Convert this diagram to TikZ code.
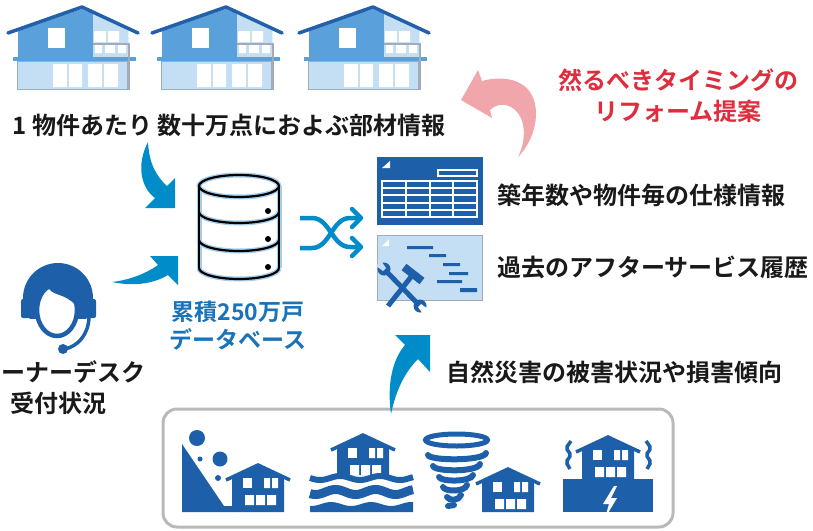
\documentclass[tikz,border=0pt]{standalone}
\usepackage{fontspec}
\setmainfont{Noto Sans CJK JP}[BoldFont={Noto Sans CJK JP Bold}]
\definecolor{roofblue}{RGB}{35,95,170}
\definecolor{wallblue}{RGB}{90,160,218}
\definecolor{paleblue}{RGB}{196,222,243}
\definecolor{iconblue}{RGB}{30,95,170}
\definecolor{arrowblue}{RGB}{0,140,200}
\definecolor{labelblue}{RGB}{25,115,185}
\definecolor{labelred}{RGB}{222,45,60}
\definecolor{pinkarrow}{RGB}{241,166,172}
\definecolor{framegrey}{RGB}{185,185,185}
\definecolor{inkblack}{RGB}{25,25,25}
\definecolor{glowblue}{RGB}{165,205,238}
\definecolor{trimgrey}{RGB}{160,172,185}
\tikzset{
  lbl/.style={font=\bfseries\fontsize{24}{31}\selectfont, text=inkblack, inner sep=0pt, align=center},
  bigarrow/.style={fill=arrowblue},
  % two-storey house with balcony
  pics/housetop/.style={code={
    \fill[wallblue] (18,58) -- (18,29) -- (82,9) -- (128,28) -- (128,58) -- cycle;
    \fill[paleblue] (93,58) -- (93,13) -- (128,28) -- (128,58) -- cycle;
    \draw[roofblue, line width=3.5, line cap=round, line join=round] (8,33) -- (82,7) -- (138,33);
    \fill[white] (48,28) rectangle (65,48);
    \fill[white] (94,31) rectangle (106,42) (108,31) rectangle (119,42);
    \fill[white] (95,45) rectangle (102,53) (105,45) rectangle (115,53) (118,45) rectangle (126,53);
    \draw[trimgrey, line width=1.2] (93,44) -- (129,44);
    \fill[paleblue] (17,61) rectangle (127,89);
    \draw[trimgrey, line width=1] (17,61) rectangle (127,89);
    \fill[white] (53,64) rectangle (67,87) (69,64) rectangle (82,87)
                 (88,64) rectangle (102,87) (104,64) rectangle (118,87);
    \fill[wallblue] (13,57) rectangle (136,61);
    \draw[trimgrey, line width=2] (129,43) -- (129,90);
  }},
  % small house pictogram, origin at the roof apex, #1 = body depth
  pics/dhouse/.style={code={
    \fill[iconblue] (-26,#1) -- (-26,12) -- (0,0) -- (26,12) -- (26,#1) -- cycle;
    \draw[iconblue, line width=3.5] (-32,15) -- (0,0) -- (32,15);
    \fill[white] (-15,13) rectangle (-6,23);
    \fill[white] (6,13) rectangle (12,23) (14,13) rectangle (20,23);
    \fill[white] (-13,30) rectangle (-4,40) (-2,30) rectangle (7,40) (9,30) rectangle (18,40);
  }}
}
\begin{document}
\begin{tikzpicture}[x=1pt,y=-1pt]
\useasboundingbox (0,0) rectangle (813,530);
\clip (0,0) rectangle (813,530);

% ---------- houses along the top ----------
\pic at (0,0) {housetop};
\pic at (144,0) {housetop};
\pic at (291,0) {housetop};

\node[lbl] (parts) at (229,125) {1 物件あたり 数十万点におよぶ部材情報};

% ---------- database cylinder ----------
\foreach \w/\c in {5/glowblue, 2.2/black}{
  \draw[\c, line width=\w] (239,186) ellipse [x radius=40, y radius=11];
  \draw[\c, line width=\w] (199,186) -- (199,268) (279,186) -- (279,268);
  \foreach \cy in {212,240,268}{
    \draw[\c, line width=\w] (199,\cy) .. controls (199,\cy+6.1) and (216.9,\cy+11) .. (239,\cy+11)
      .. controls (261.1,\cy+11) and (279,\cy+6.1) .. (279,\cy);
  }
}
\foreach \dy in {211,239,267} \fill[black] (268,\dy) circle [radius=3];
\coordinate (db) at (239,232);
\node[lbl, text=labelblue, font=\bfseries\fontsize{23}{28}\selectfont] (dblabel) at (238,326) {累積250万戸\\データベース};

% ---------- shuffle arrows ----------
\begin{scope}[arrowblue, line width=4.5, line join=round]
  \draw (300,218) -- (312,218) .. controls (330,218) and (332,247) .. (350,247) -- (361,247);
  \draw (300,248) -- (312,248) .. controls (330,248) and (332,218) .. (350,218) -- (361,218);
  \draw[line cap=round] (352,209) -- (361,218) -- (352,227);
  \draw[line cap=round] (352,238) -- (361,247) -- (352,256);
\end{scope}

% ---------- spreadsheet icon ----------
\fill[iconblue] (377,157) rectangle (483,225);
\fill[white] (382,168) -- (390,161) -- (390,168) -- cycle;
\draw[white, line width=1.2] (438,170) rectangle (477,176);
\draw[white, line width=1.5] (382,181) rectangle (477,217);
\draw[white, line width=1.5] (382,188) -- (477,188) (382,195) -- (477,195) (382,203) -- (477,203) (382,210) -- (477,210)
  (406,181) -- (406,217) (430,181) -- (430,217) (453,181) -- (453,217);
\node[lbl, anchor=west] (spec) at (497,195) {築年数や物件毎の仕様情報};

% ---------- service history icon ----------
\fill[paleblue] (377,235) rectangle (482,300);
\draw[trimgrey, line width=1] (377,235) rectangle (482,300);
\fill[white] (382,246) -- (389,239) -- (389,246) -- cycle;
\fill[iconblue] (407,246) rectangle (433,249) (429,254) rectangle (446,257) (443,263) rectangle (460,266)
  (449,272) rectangle (468,275) (437,280) rectangle (462,283) (460,288) rectangle (477,292);
% wrench
\draw[iconblue, line width=5] (387,272) -- (417,303);
\fill[iconblue] (384,269) circle [radius=6.5] (420,306) circle [radius=6.5];
\fill[paleblue] (376,266) -- (381,261) -- (386,268) -- (383,271) -- cycle;
\fill[white] (428,309) -- (423,314) -- (418,307) -- (421,304) -- cycle;
% hammer
\draw[iconblue, line width=5] (388,306) -- (411,277);
\draw[iconblue, line width=8] (404,267) -- (422,281);
\node[lbl, anchor=west] (history) at (497,267) {過去のアフターサービス履歴};

% ---------- reform proposal ----------
\fill[pinkarrow] (518,157) .. controls (535,140) and (542,110) .. (530,92)
  .. controls (520,78) and (500,76) .. (482,81) -- (478,70) -- (461,100) -- (492,118) -- (490,110)
  .. controls (500,100) and (515,105) .. (521,118) .. controls (526,130) and (524,145) .. (518,157) -- cycle;
\node[lbl, text=labelred] (proposal) at (678,96) {然るべきタイミングの\\リフォーム提案};

% ---------- owner desk ----------
\begin{scope}
  \clip (0,250) rectangle (120,318);
  \fill[iconblue] (58,298) circle [radius=35];
\end{scope}
\draw[iconblue, line width=4.5, fill=white] (57,310) ellipse [x radius=20, y radius=26];
\fill[iconblue] (34,312) .. controls (36,298) and (44,292) .. (49,289)
  .. controls (55,297) and (70,293) .. (80,312) -- (80,280) -- (34,280) -- cycle;
\fill[iconblue, rounded corners=2] (21,299) rectangle (33,318) (83,299) rectangle (96,318);
\draw[iconblue, line width=3.5] (89,318) .. controls (88,335) and (78,346) .. (65,349);
\fill[iconblue] (63,349) circle [radius=5];
\node[lbl, anchor=west] (desk1) at (1,372) {ーナーデスク};
\node[lbl] (desk2) at (58,403) {受付状況};

% ---------- inflow arrows to the database ----------
\fill[bigarrow] (148,142) .. controls (136,165) and (141,188) .. (155,198) -- (145,208) -- (175,208) -- (175,178)
  -- (167,186) .. controls (156,176) and (149,163) .. (148,142) -- cycle;
\fill[bigarrow] (112,282) .. controls (135,287) and (155,283) .. (168,275) -- (178,285) -- (178,256) -- (150,256)
  -- (158,265) .. controls (147,273) and (130,280) .. (112,282) -- cycle;

% ---------- disaster panel ----------
\draw[framegrey, line width=3, rounded corners=14] (163,409) rectangle (673,527);

% landslide
\fill[iconblue] (182,444) -- (224,506) -- (232,506) -- (232,512) -- (182,512) -- cycle;
\fill[iconblue] (197,438) circle [radius=8] (220,459) circle [radius=7.5] (200,459) circle [radius=2.5] (218,478) circle [radius=3];
\pic at (258,465) {dhouse=47};

% flood
\pic at (363,435) {dhouse=40};
\draw[iconblue, line width=6] plot[domain=310:413, samples=60] (\x, {478+2*sin(9*(\x-310))});
\draw[iconblue, line width=9] plot[domain=310:413, samples=60] (\x, {492+2.5*sin(9*(\x-310)+40)});
\fill[iconblue] plot[domain=310:413, samples=60] (\x, {504+2*sin(9*(\x-310)+80)}) -- (413,512) -- (310,512) -- cycle;

% tornado
\draw[iconblue, line width=5] (456.5,440) ellipse [x radius=31, y radius=6];
\begin{scope}[iconblue, line width=6, line cap=round]
  \draw (428,455) .. controls (430,461) and (484,461) .. (486,453);
  \draw (433,466) .. controls (435,472) and (478,472) .. (480,464);
  \draw (439,477) .. controls (441,482) and (471,482) .. (473,475);
  \draw (443,487) .. controls (445,492) and (465,492) .. (467,485);
  \draw (447,497) .. controls (449,501) and (459,501) .. (461,495);
  \draw (448,506) -- (454,505);
\end{scope}
\pic at (508,469) {dhouse=43};

% earthquake
\fill[iconblue] (563,479) rectangle (653,512);
\pic at (608,437) {dhouse=43};
\fill[white] (614,486) -- (603,504) -- (609,504) -- (605,518) -- (617,498) -- (611,498) -- (617,486) -- cycle;
\draw[iconblue, line width=3.5, rounded corners=2] (571,441) -- (566,448) -- (571,455) -- (566,462) -- (570,469);
\draw[iconblue, line width=3.5, rounded corners=2] (646,441) -- (651,448) -- (646,455) -- (651,462) -- (647,469);

% arrow from the disaster data up to the records
\fill[bigarrow] (391,414) .. controls (387,385) and (392,360) .. (405,345) -- (395,335) -- (430,335) -- (430,372)
  -- (418,359) .. controls (405,372) and (396,390) .. (391,414) -- cycle;
\node[lbl, anchor=west] (disaster) at (446,372) {自然災害の被害状況や損害傾向};

\end{tikzpicture}
\end{document}
